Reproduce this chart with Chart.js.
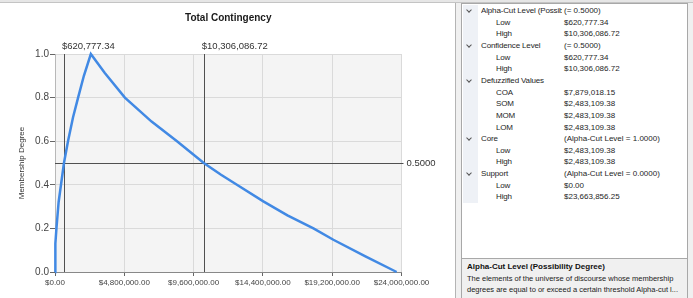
<!DOCTYPE html>
<html>
<head>
<meta charset="utf-8">
<script src="https://cdn.jsdelivr.net/npm/chart.js@4.4.1/dist/chart.umd.min.js"></script>
<style>
  html, body { margin: 0; padding: 0; }
  body {
    width: 693px; height: 298px; position: relative; overflow: hidden;
    background: #f0f0f0; font-family: "Liberation Sans", Arial, sans-serif;
  }
  #chartPanel { position: absolute; left: 0; top: 0; width: 455px; height: 298px; background: #fff; border-right: 1px solid #b4b4b4; }
  #chartPanel canvas { display: block; }
  #topLine { position: absolute; left: 0; top: 0; width: 693px; height: 2px; background: #e6e6e6; border-bottom: 1px solid #c4c4c4; z-index: 5; }
  #grid { position: absolute; left: 461px; top: 3px; width: 225px; height: 255px; background: #fff; border: 1px solid #a8a8a8; border-bottom: none; }
  #gutter { position: absolute; left: 1px; top: 1px; width: 15px; background: #eef1f6; }
  #help { position: absolute; left: 461px; top: 258px; width: 225px; height: 40px; background: #f0f0f0; border: 1px solid #a8a8a8; border-bottom: none; }
  .row { position: absolute; height: 12px; line-height: 12px; font-size: 8px; color: #1e1e1e; white-space: nowrap; }
  .name { overflow: hidden; letter-spacing: -0.15px; }
  .chev { position: absolute; width: 3px; height: 3px; border-right: 1px solid #555; border-bottom: 1px solid #555; transform: rotate(45deg); }
  #helpTitle { position: absolute; left: 5px; top: 3px; font-size: 8px; font-weight: bold; color: #111; white-space: nowrap; }
  .helpLine { position: absolute; left: 5px; font-size: 7.5px; color: #222; white-space: nowrap; }
</style>
</head>
<body>
<div id="chartPanel"><canvas id="fuzzyChart" width="455" height="298"></canvas></div>
<div id="topLine"></div>
<div id="grid"><div id="gutter"></div></div>
<div id="help">
  <div id="helpTitle">Alpha-Cut Level (Possibility Degree)</div>
  <div class="helpLine" style="top:15px">The elements of the universe of discourse whose membership</div>
  <div class="helpLine" style="top:26px">degrees are equal to or exceed a certain threshold Alpha-cut l...</div>
</div>
<script>
// membership curve (x in $, y = membership degree)
const curveX = [0, 10000, 40000, 100000, 250000, 620777.34, 900000, 1250000, 1600000, 2000000, 2483109.38,
  3450000, 4840000, 6690000, 8450000, 10306086.72, 11500000, 12600000, 14430000, 16100000, 17900000,
  19280000, 21500000, 23663856.25]
const curveY = [0, 0.06, 0.13, 0.2, 0.32, 0.5, 0.6, 0.71, 0.8, 0.9, 1.0,
  0.913, 0.8, 0.69, 0.6, 0.5, 0.446, 0.4, 0.324, 0.26, 0.2,
  0.148, 0.072, 0]

const xTicks = [0, 4800000, 9600000, 14400000, 19200000, 24000000]
const yTicks = [0, 0.2, 0.4, 0.6, 0.8, 1.0]

// alpha-cut markers
const cutValues = [620777.34, 10306086.72]
const cutLevel = 0.5
const cutLevelLabel = '0.5000'

// property grid
const propNames = ['Alpha-Cut Level (Possibility Degree)', 'Low', 'High', 'Confidence Level', 'Low', 'High',
  'Defuzzified Values', 'COA', 'SOM', 'MOM', 'LOM', 'Core', 'Low', 'High', 'Support', 'Low', 'High']
const propValues = ['(= 0.5000)', '$620,777.34', '$10,306,086.72', '(= 0.5000)', '$620,777.34', '$10,306,086.72',
  '', '$7,879,018.15', '$2,483,109.38', '$2,483,109.38', '$2,483,109.38', '(Alpha-Cut Level = 1.0000)',
  '$2,483,109.38', '$2,483,109.38', '(Alpha-Cut Level = 0.0000)', '$0.00', '$23,663,856.25']
const propIsCategory = [1, 0, 0, 1, 0, 0, 1, 0, 0, 0, 0, 1, 0, 0, 1, 0, 0]

const money = v => '$' + v.toLocaleString('en-US', { minimumFractionDigits: 2, maximumFractionDigits: 2 })
const FONT = '"Liberation Sans", Arial, sans-serif'

// build the property grid rows
const grid = document.getElementById('grid')
const rowH = 11.65
const gridTop = 1
propNames.forEach((name, i) => {
  const top = gridTop + i * rowH
  const cat = propIsCategory[i] === 1
  if (cat) {
    const c = document.createElement('div')
    c.className = 'chev'
    c.style.left = '5px'
    c.style.top = (top + 3.2) + 'px'
    grid.appendChild(c)
  }
  const n = document.createElement('div')
  n.className = 'row name'
  n.style.left = (cat ? 19 : 34) + 'px'
  n.style.width = (cat ? 81 : 66) + 'px'
  n.style.top = top + 'px'
  n.textContent = name
  grid.appendChild(n)
  const v = document.createElement('div')
  v.className = 'row'
  v.style.left = '102px'
  v.style.top = top + 'px'
  v.textContent = propValues[i]
  grid.appendChild(v)
})
document.getElementById('gutter').style.height = (propNames.length * rowH) + 'px'

const decor = {
  id: 'decor',
  beforeDraw(chart) {
    const { ctx, chartArea: a } = chart
    ctx.save()
    ctx.fillStyle = '#f4f4f4'
    ctx.fillRect(a.left, a.top, a.right - a.left, a.bottom - a.top)
    ctx.restore()
  },
  beforeDatasetsDraw(chart) {
    const { ctx, chartArea: a, scales } = chart
    ctx.save()
    ctx.strokeStyle = '#505050'
    ctx.lineWidth = 1
    cutValues.forEach(v => {
      const px = Math.round(scales.x.getPixelForValue(v)) + 0.5
      ctx.beginPath()
      ctx.moveTo(px, a.top)
      ctx.lineTo(px, a.bottom)
      ctx.stroke()
    })
    const py = Math.round(scales.y.getPixelForValue(cutLevel)) + 0.5
    ctx.beginPath()
    ctx.moveTo(a.left, py)
    ctx.lineTo(a.right + 2, py)
    ctx.stroke()
    ctx.restore()
  },
  afterDraw(chart) {
    const { ctx, chartArea: a, scales } = chart
    ctx.save()
    ctx.fillStyle = '#333'
    ctx.font = '9.5px ' + FONT
    ctx.textAlign = 'left'
    ctx.textBaseline = 'alphabetic'
    cutValues.forEach(v => {
      const px = scales.x.getPixelForValue(v)
      ctx.fillText(money(v), px - 2, a.top - 5)
    })
    ctx.textBaseline = 'middle'
    ctx.fillText(cutLevelLabel, a.right + 5, scales.y.getPixelForValue(cutLevel))

    // title
    ctx.fillStyle = '#1a1a1a'
    ctx.font = 'bold 10px ' + FONT
    ctx.textAlign = 'center'
    ctx.fillText('Total Contingency', (a.left + a.right) / 2, 18)

    // y axis title
    ctx.fillStyle = '#333'
    ctx.font = '8px ' + FONT
    ctx.translate(21.5, (a.top + a.bottom) / 2)
    ctx.rotate(-Math.PI / 2)
    ctx.fillText('Membership Degree', 0, 0)
    ctx.restore()
  }
}

const points = curveX.map((x, i) => ({ x: x, y: curveY[i] }))

new Chart(document.getElementById('fuzzyChart'), {
  type: 'scatter',
  data: {
    datasets: [{
      data: points,
      showLine: true,
      borderColor: '#4189e4',
      borderWidth: 2.5,
      pointRadius: 0,
      tension: 0,
      clip: false
    }]
  },
  options: {
    responsive: false,
    animation: false,
    devicePixelRatio: 1,
    layout: { padding: { top: 54, right: 53.5, bottom: 0, left: 0 } },
    plugins: { legend: { display: false }, tooltip: { enabled: false } },
    scales: {
      x: {
        type: 'linear',
        min: 0,
        max: 24000000,
        afterBuildTicks: s => { s.ticks = xTicks.map(v => ({ value: v })) },
        afterFit: s => { s.height = 26 },
        grid: { color: '#dadada', tickColor: '#666', tickLength: 4 },
        border: { color: '#888' },
        ticks: {
          color: '#444',
          padding: 2,
          maxRotation: 0,
          autoSkip: false,
          font: { size: 8, family: FONT },
          callback: v => money(v)
        }
      },
      y: {
        min: 0,
        max: 1,
        afterBuildTicks: s => { s.ticks = yTicks.map(v => ({ value: v })) },
        afterFit: s => { s.width = 55 },
        grid: { color: '#dadada', tickColor: '#666', tickLength: 5 },
        border: { color: '#b8b8b8' },
        ticks: {
          color: '#444',
          padding: 1,
          font: { size: 10, family: FONT },
          callback: v => v.toFixed(1)
        }
      }
    }
  },
  plugins: [decor]
})
</script>
</body>
</html>
